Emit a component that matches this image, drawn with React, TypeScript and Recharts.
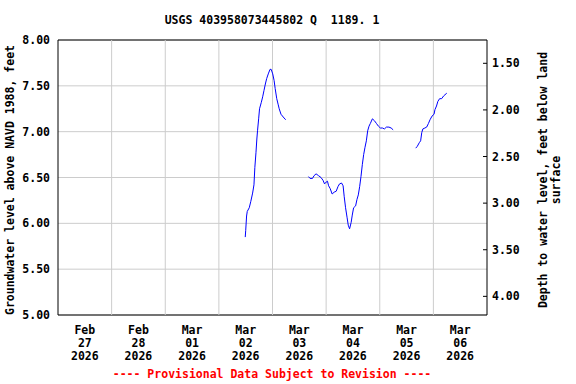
import { LineChart, Line, XAxis, YAxis, CartesianGrid, ReferenceLine, ReferenceArea } from 'recharts';

// hours since Feb 27 2026 00:00, null level = gap in record
const hours = [
  83.8, 84.0, 84.4, 84.7, 85.6, 86.3, 87.1, 87.7, 88.1, 88.6, 89.0, 89.3, 89.8, 90.2, 91.0, 91.6,
  92.2, 92.8, 93.4, 94.1, 94.9, 95.4, 96.1, 96.7, 97.2, 97.9, 98.5, 99.0, 99.8, 100.8, 101.9,
  106,
  112.1, 112.8, 113.9, 114.6, 115.5, 116.6, 117.7, 118.6, 119.3, 120.0, 120.6, 121.1, 121.8, 122.7,
  123.6, 124.5, 125.3, 126.0, 126.9, 127.6, 128.1, 128.7, 129.4, 129.9, 130.5, 131.2, 131.7, 132.3,
  133.2, 133.8, 134.4, 135.0, 135.6, 136.2, 136.8, 137.4, 138.0, 138.6, 139.2, 139.8, 140.7, 141.6,
  142.5, 143.4, 144.3, 145.2, 146.1, 147.0, 148.1, 149.1, 150.0,
  155,
  160.1, 160.8, 161.7, 162.3, 162.8, 163.3, 164.2, 165.0, 165.8, 166.5, 167.4, 168.3, 168.7, 169.4,
  170.0, 170.8, 171.7, 172.6, 174.0,
];

const levels = [
  5.85, 5.92, 6.08, 6.13, 6.17, 6.24, 6.33, 6.42, 6.61, 6.77, 6.92, 7.01, 7.14, 7.25, 7.32, 7.38,
  7.45, 7.52, 7.58, 7.63, 7.68, 7.68, 7.63, 7.56, 7.47, 7.36, 7.30, 7.25, 7.19, 7.16, 7.13,
  null,
  6.51, 6.49, 6.49, 6.52, 6.54, 6.52, 6.50, 6.47, 6.43, 6.45, 6.46, 6.41, 6.38, 6.32,
  6.34, 6.35, 6.40, 6.43, 6.44, 6.41, 6.29, 6.17, 6.06, 5.98, 5.94, 6.01, 6.09, 6.17,
  6.19, 6.26, 6.31, 6.40, 6.51, 6.64, 6.75, 6.83, 6.90, 7.01, 7.06, 7.09, 7.14, 7.12,
  7.09, 7.06, 7.04, 7.04, 7.03, 7.05, 7.05, 7.04, 7.02,
  null,
  6.82, 6.84, 6.88, 6.90, 6.99, 7.03, 7.04, 7.05, 7.09, 7.13, 7.17, 7.19, 7.24, 7.28,
  7.33, 7.36, 7.36, 7.39, 7.42,
];

const tickHours = [12, 36, 60, 84, 108, 132, 156, 180];
const tickMonths = ['Feb', 'Feb', 'Mar', 'Mar', 'Mar', 'Mar', 'Mar', 'Mar'];
const tickDays = ['27', '28', '01', '02', '03', '04', '05', '06'];
const tickYear = '2026';
const midnights = [24, 48, 72, 96, 120, 144, 168];
const levelTicks = [5, 5.5, 6, 6.5, 7, 7.5, 8];
const depthTicks = [1.5, 2, 2.5, 3, 3.5, 4];

const data = hours.map((h, i) => ({ h, level: levels[i] }));

const FONT = '"DejaVu Sans Mono", monospace';
const FS = 11.5;
const GRID = '#cccccc';

function DateTick({ x, y, payload }: any) {
  const i = tickHours.indexOf(payload.value);
  const common = { x, textAnchor: 'middle' as const, fontFamily: FONT, fontWeight: 'bold', fontSize: FS, fill: '#000' };
  return (
    <g>
      <text {...common} y={y + 19}>{tickMonths[i]}</text>
      <text {...common} y={y + 32}>{tickDays[i]}</text>
      <text {...common} y={y + 45}>{tickYear}</text>
    </g>
  );
}

const tickStyle = { fill: '#000', fontFamily: FONT, fontWeight: 'bold', fontSize: FS };

function Overlay({ x, y, children, color = '#000', rotate = false }: any) {
  return (
    <div
      style={{
        position: 'absolute',
        left: x,
        top: y,
        transform: `translate(-50%, -50%)${rotate ? ' rotate(-90deg)' : ''}`,
        fontFamily: FONT,
        fontWeight: 'bold',
        fontSize: FS,
        lineHeight: 1,
        whiteSpace: 'pre',
        color,
      }}
    >
      {children}
    </div>
  );
}

export default function App() {
  return (
    <div style={{ position: 'absolute', left: 0, top: 0, width: 576, height: 384, background: '#fff' }}>
      <LineChart width={576} height={384} data={data} margin={{ top: 40, right: 0, bottom: 0, left: 0 }}>
        <CartesianGrid stroke={GRID} vertical={false} yAxisId="level" />
        {midnights.map((m) => (
          <ReferenceLine key={m} x={m} yAxisId="level" stroke={GRID} />
        ))}
        <XAxis
          dataKey="h"
          type="number"
          domain={[0, 192]}
          ticks={tickHours}
          tick={<DateTick />}
          tickLine={false}
          axisLine={false}
          tickSize={0}
          tickMargin={0}
          height={69}
          interval={0}
        />
        <YAxis
          yAxisId="level"
          type="number"
          domain={[5, 8]}
          ticks={levelTicks}
          tickFormatter={(v: number) => v.toFixed(2)}
          tick={tickStyle}
          tickLine={false}
          axisLine={false}
          width={58}
          interval={0}
        />
        <YAxis
          yAxisId="depth"
          orientation="right"
          type="number"
          domain={[1.25, 4.2]}
          allowDataOverflow
          reversed
          ticks={depthTicks}
          tickFormatter={(v: number) => v.toFixed(2)}
          tick={tickStyle}
          tickLine={{ stroke: '#000' }}
          tickSize={-4}
          tickMargin={9}
          axisLine={false}
          width={89}
          interval={0}
        />
        <ReferenceArea x1={0} x2={192} y1={5} y2={8} yAxisId="level" fill="none" stroke="#000" strokeWidth={1} />
        <Line
          yAxisId="level"
          dataKey="level"
          type="linear"
          stroke="#0000ff"
          strokeWidth={1}
          dot={false}
          connectNulls={false}
          isAnimationActive={false}
        />
      </LineChart>
      <Overlay x={272} y={21}>{'USGS 403958073445802 Q  1189. 1'}</Overlay>
      <Overlay x={11} y={180} rotate>Groundwater level above NAVD 1988, feet</Overlay>
      <Overlay x={543.5} y={180} rotate>Depth to water level, feet below land</Overlay>
      <Overlay x={557} y={180} rotate>surface</Overlay>
      <Overlay x={272} y={375} color="#ff0000">---- Provisional Data Subject to Revision ----</Overlay>
    </div>
  );
}
